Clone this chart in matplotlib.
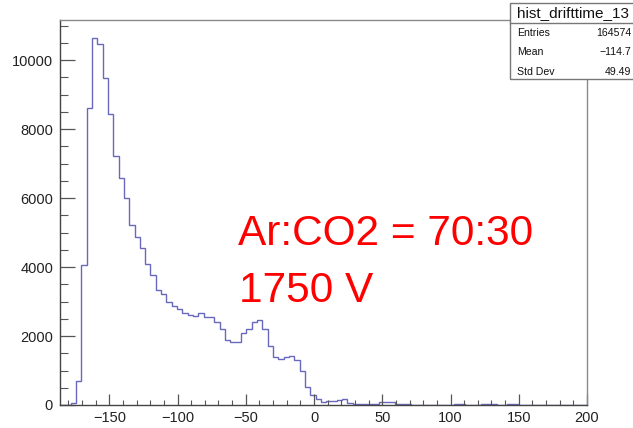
import numpy as np
import matplotlib
matplotlib.use("Agg")
import matplotlib.pyplot as plt
from matplotlib import font_manager
from matplotlib.ticker import MultipleLocator, FuncFormatter
from matplotlib.patches import Rectangle

# drift-time histogram: 100 bins over [-190, 200]
x_low, x_high, n_bins = -190.0, 200.0, 100
counts = [
    0, 0, 0, 60, 700, 4060, 8600, 10630, 10480, 9490,
    8435, 7217, 6570, 5990, 5210, 4860, 4560, 4080, 3770, 3330,
    3210, 2995, 2870, 2775, 2660, 2610, 2580, 2660, 2560, 2540,
    2415, 2190, 1884, 1835, 1835, 2096, 2190, 2420, 2470, 2190,
    1700, 1400, 1340, 1390, 1418, 1300, 1000, 530, 290, 160,
    100, 120, 125, 140, 160, 70, 30, 20, 15, 15,
    30, 95, 95, 80, 40, 20, 15, 12, 10, 10,
    8, 10, 12, 8, 10, 15, 20, 12, 8, 10,
    15, 25, 15, 10, 12, 20, 15, 10, 8, 10,
    12, 8, 10, 8, 6, 5, 8, 5, 5, 4,
]
hist_name = "hist_drifttime_13"
stat_labels = ["Entries", "Mean", "Std Dev"]
stat_values = ["164574", "\u2212114.7", "49.49"]
annotation_lines = ["Ar:CO2 = 70:30", "1750 V"]

W, H = 633, 428
DPI = 100
fig = plt.figure(figsize=(W / DPI, H / DPI), dpi=DPI)
fig.patch.set_facecolor("white")

available = {f.name for f in font_manager.fontManager.ttflist}
base_font = "Liberation Sans" if "Liberation Sans" in available else "DejaVu Sans"
plt.rcParams["font.family"] = [base_font, "DejaVu Sans"]


def fx(px):
    return px / W


def fy(py):
    return 1 - py / H


# frame: x 60..587 px, y 20..405 px
ax = fig.add_axes([fx(60), fy(405), fx(587) - fx(60), fy(20) - fy(405)])
edges = np.linspace(x_low, x_high, n_bins + 1)
ax.stairs(counts, edges, color="#6868bc", lw=1.0)

ax.set_xlim(edges[1], x_high)
ax.set_ylim(0, max(counts) * 1.05)

ax.xaxis.set_major_locator(MultipleLocator(50))
ax.xaxis.set_minor_locator(MultipleLocator(10))
ax.yaxis.set_major_locator(MultipleLocator(2000))
ax.yaxis.set_minor_locator(MultipleLocator(500))


def root_fmt(v, pos):
    s = f"{v:g}"
    return s.replace("-", "\u2212")


ax.xaxis.set_major_formatter(FuncFormatter(root_fmt))
ax.yaxis.set_major_formatter(FuncFormatter(root_fmt))

ax.tick_params(axis="x", which="major", direction="in", length=7.7, width=0.9,
               color="#555555", labelsize=10.5, pad=4, labelcolor="#222222")
ax.tick_params(axis="x", which="minor", direction="in", length=3.6, width=0.8,
               color="#555555")
ax.tick_params(axis="y", which="major", direction="in", length=10.8, width=0.9,
               color="#555555", labelsize=10.5, pad=5, labelcolor="#222222")
ax.tick_params(axis="y", which="minor", direction="in", length=5.4, width=0.8,
               color="#555555")
for side in ["left", "bottom"]:
    ax.spines[side].set_color("#444444")
    ax.spines[side].set_linewidth(1.0)
for side in ["top", "right"]:
    ax.spines[side].set_color("#8a8a8a")
    ax.spines[side].set_linewidth(1.0)

# statistics box
box_l, box_t, box_b, sep = 510, 3, 79, 23
fig.patches.append(Rectangle((fx(box_l), fy(box_b)), fx(W + 20) - fx(box_l),
                             fy(box_t) - fy(box_b), transform=fig.transFigure,
                             facecolor="white", edgecolor="#777777", lw=1.0,
                             zorder=5))
fig.lines.append(plt.Line2D([fx(box_l), fx(W + 20)], [fy(sep), fy(sep)],
                            transform=fig.transFigure, color="#777777",
                            lw=1.0, zorder=6))
fig.text(fx(517), fy(13), hist_name, fontsize=11, ha="left", va="center",
         color="#111111", zorder=7)
row_y = [33, 52, 72]
for lab, val, y in zip(stat_labels, stat_values, row_y):
    fig.text(fx(517), fy(y), lab, fontsize=7.6, ha="left", va="center",
             color="#111111", zorder=7)
    fig.text(fx(631), fy(y), val, fontsize=7.6, ha="right", va="center",
             color="#111111", zorder=7)

# gas mixture / voltage annotation
fig.text(fx(238), fy(245), annotation_lines[0], fontsize=30.5, color="#ff0000",
         ha="left", va="baseline")
fig.text(fx(239), fy(302), annotation_lines[1], fontsize=30.5, color="#ff0000",
         ha="left", va="baseline")

fig.savefig("out.png", dpi=DPI)
